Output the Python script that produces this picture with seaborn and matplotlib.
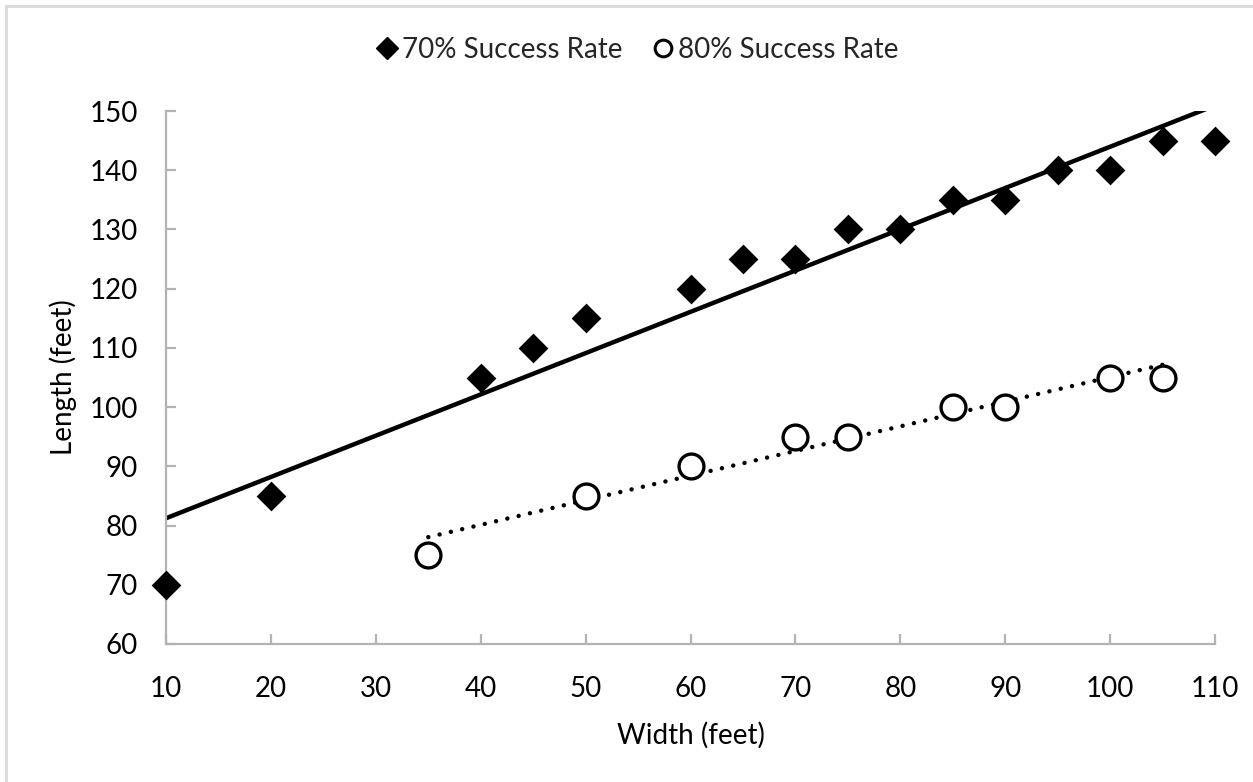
import matplotlib
matplotlib.use("Agg")
import matplotlib.pyplot as plt
from matplotlib.lines import Line2D
from matplotlib.patches import Rectangle
import numpy as np
import pandas as pd
import seaborn as sns

# Plot dimensions (feet) at each success rate
width_70 = [10, 20, 40, 45, 50, 60, 65, 70, 75, 80, 85, 90, 95, 100, 105, 110]
length_70 = [70, 85, 105, 110, 115, 120, 125, 125, 130, 130, 135, 135, 140, 140, 145, 145]
width_80 = [35, 50, 60, 70, 75, 85, 90, 100, 105]
length_80 = [75, 85, 90, 95, 95, 100, 100, 105, 105]

series_labels = ["70% Success Rate", "80% Success Rate"]
x_ticks = list(range(10, 111, 10))
y_ticks = list(range(60, 151, 10))

df70 = pd.DataFrame({"Width": width_70, "Length": length_70})
df80 = pd.DataFrame({"Width": width_80, "Length": length_80})

sns.set_theme(style="white")
plt.rcParams["font.family"] = ["Lato", "DejaVu Sans"]

fig = plt.figure(figsize=(12.53, 7.82), dpi=100)
ax = fig.add_axes([0.1325, 0.1765, 0.8372, 0.6815])

# Linear trend lines
sns.regplot(data=df70, x="Width", y="Length", ax=ax, ci=None, scatter=False,
            line_kws=dict(color="black", lw=3.2, solid_capstyle="butt", zorder=2))
sns.regplot(data=df80, x="Width", y="Length", ax=ax, ci=None, scatter=False,
            line_kws=dict(color="black", lw=3.2, linestyle=(0, (0.01, 2.6)),
                          dash_capstyle="round", zorder=2))

# Data points
sns.scatterplot(data=df70, x="Width", y="Length", ax=ax, marker="D", s=230,
                color="black", edgecolor="black", linewidth=0, zorder=3,
                clip_on=False)
sns.scatterplot(data=df80, x="Width", y="Length", ax=ax, marker="o", s=320,
                facecolor="white", edgecolor="black", linewidth=2.4, zorder=3,
                clip_on=False)

ax.set_xlim(10, 110)
ax.set_ylim(60, 150)
ax.set_xticks(x_ticks)
ax.set_yticks(y_ticks)

for side in ("top", "right"):
    ax.spines[side].set_visible(False)
for side in ("left", "bottom"):
    ax.spines[side].set_color("#b3b3b3")
    ax.spines[side].set_linewidth(1.6)

ax.tick_params(axis="both", which="major", bottom=True, left=True,
               direction="in", length=7, width=1.6, color="#b3b3b3",
               labelsize=20, labelcolor="black")
ax.tick_params(axis="x", pad=23)
ax.tick_params(axis="y", pad=20)

ax.set_xlabel("Width (feet)", fontsize=20, color="black", labelpad=14)
ax.set_ylabel("Length (feet)", fontsize=20, color="black", labelpad=9)

handles = [
    Line2D([], [], marker="D", linestyle="none", color="black", markersize=11),
    Line2D([], [], marker="o", linestyle="none", markerfacecolor="white",
           markeredgecolor="black", markeredgewidth=2.2, markersize=12),
]
fig.legend(handles, series_labels, loc="center", bbox_to_anchor=(0.508, 0.936),
           ncol=2, frameon=False, fontsize=20, handletextpad=0.1,
           columnspacing=1.0, handlelength=0.9)

# Light chart-area border
fig.patches.append(Rectangle((6 / 1253, -0.1), 1.2, (782 - 6) / 782 + 0.1,
                             transform=fig.transFigure, fill=False,
                             edgecolor="#d9d9d9", linewidth=2))

fig.savefig("out.png", dpi=100)
